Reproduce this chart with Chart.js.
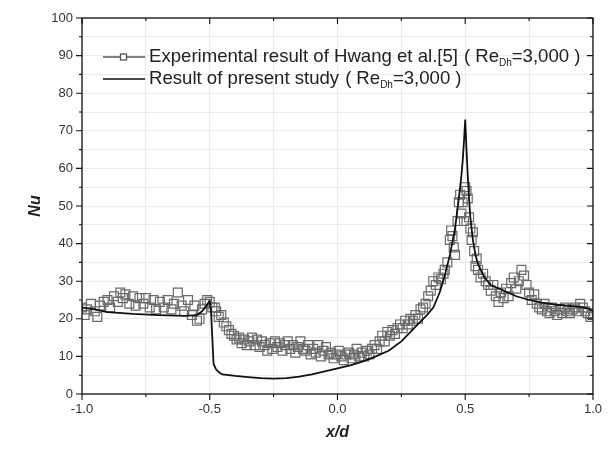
<!DOCTYPE html>
<html lang="en">
<head>
<meta charset="UTF-8">
<title>Nu distribution along x/d</title>
<script src="https://cdn.jsdelivr.net/npm/chart.js@4"></script>
<style>
  html, body { margin: 0; padding: 0; background: #fff; }
  #wrap { width: 610px; height: 451px; }
</style>
</head>
<body>
<div id="wrap"><canvas id="nuChart" width="610" height="451"></canvas></div>
<script>
// experimental result of Hwang et al. [5]
const expX = [
  -1.0, -0.99, -0.98, -0.965, -0.95, -0.94, -0.93, -0.915, -0.9, -0.89,
  -0.875, -0.86, -0.85, -0.84, -0.83, -0.815, -0.8, -0.79, -0.775, -0.76,
  -0.75, -0.735, -0.72, -0.71, -0.695, -0.68, -0.665, -0.65, -0.64, -0.625,
  -0.61, -0.6, -0.585, -0.57, -0.56, -0.55, -0.54, -0.53, -0.52, -0.51,
  -0.5, -0.49, -0.48, -0.475, -0.465, -0.455, -0.445, -0.435, -0.425, -0.415,
  -0.405, -0.395, -0.385, -0.375, -0.365, -0.355, -0.345, -0.335, -0.325, -0.315,
  -0.305, -0.295, -0.285, -0.275, -0.265, -0.255, -0.245, -0.235, -0.225, -0.215,
  -0.205, -0.195, -0.185, -0.175, -0.165, -0.155, -0.145, -0.135, -0.125, -0.115,
  -0.105, -0.095, -0.085, -0.075, -0.065, -0.055, -0.045, -0.035, -0.025, -0.015,
  -0.005, 0.005, 0.015, 0.025, 0.035, 0.045, 0.055, 0.065, 0.075, 0.085,
  0.095, 0.105, 0.115, 0.125, 0.135, 0.145, 0.155, 0.165, 0.175, 0.185,
  0.195, 0.205, 0.215, 0.225, 0.235, 0.245, 0.255, 0.265, 0.275, 0.285,
  0.295, 0.305, 0.315, 0.325, 0.335, 0.345, 0.355, 0.365, 0.375, 0.385,
  0.395, 0.405, 0.415, 0.42, 0.43, 0.44, 0.445, 0.45, 0.455, 0.46,
  0.47, 0.475, 0.48, 0.485, 0.49, 0.495, 0.5, 0.505, 0.51, 0.515,
  0.52, 0.525, 0.53, 0.535, 0.54, 0.545, 0.55, 0.56, 0.57, 0.58,
  0.59, 0.6, 0.61, 0.62, 0.63, 0.64, 0.65, 0.66, 0.67, 0.68,
  0.69, 0.7, 0.71, 0.72, 0.73, 0.74, 0.75, 0.76, 0.77, 0.78,
  0.79, 0.8, 0.81, 0.82, 0.83, 0.84, 0.85, 0.86, 0.87, 0.88,
  0.89, 0.9, 0.91, 0.92, 0.93, 0.94, 0.95, 0.96, 0.97, 0.98,
  0.99, 1.0
];
const expNu = [
  23, 21, 22.5, 24, 22, 20.5, 23.5, 24.5, 25, 23,
  26, 24.5, 27, 25.5, 26.5, 24, 26, 23.5, 25.5, 24,
  25.5, 23, 25, 22.5, 24.5, 23, 25, 22.5, 24, 27,
  23.5, 22, 25, 21, 23.5, 19.5, 20, 22.5, 24, 25,
  24.5, 23, 23, 22, 20.5, 21, 19, 18, 17, 16,
  15.5, 14.5, 15, 13.5, 14.5, 13, 14, 15, 13, 14.5,
  12.5, 14, 13, 11.5, 13.5, 12, 14, 12.5, 13.5, 11.5,
  13, 14, 12, 13, 11, 12.5, 14, 12, 11.5, 13,
  10.5, 12, 11, 13, 10, 11.5, 12.5, 10.5, 11, 9.5,
  10.5, 11.5, 10, 9, 10.5, 11, 9.5, 10.5, 12, 10,
  11, 10, 11.5, 10.5, 12, 13, 12, 14, 15.5, 14,
  16.5, 15.5, 17, 16, 17.5, 18.5, 17.5, 19.5, 18.5, 20,
  19.5, 21, 20, 22.5, 23, 24, 26, 27.5, 30, 29,
  31, 30.5, 32, 33, 35, 41, 43.5, 42, 39, 37,
  46, 51, 53, 48, 51, 46, 55, 54, 52, 47,
  44, 41, 43, 38, 34, 36, 33, 31, 32, 30,
  29, 27.5, 29, 26, 24.5, 27, 25.5, 28, 26, 29.5,
  31, 28, 30, 33, 31.5, 29, 27, 25, 26.5, 24,
  23, 22.5, 24, 22, 21.5, 23, 22, 21, 22.5, 21.5,
  23, 22, 21.5, 22.5, 23, 22, 24, 23, 22, 21.5,
  20.5, 21
];

// result of present study
const simX = [
  -1.0, -0.95, -0.9, -0.8, -0.7, -0.6, -0.55, -0.53, -0.515, -0.5,
  -0.495, -0.49, -0.485, -0.475, -0.46, -0.45, -0.4, -0.35, -0.3, -0.25,
  -0.2, -0.15, -0.1, -0.05, 0.0, 0.05, 0.1, 0.15, 0.2, 0.25,
  0.3, 0.35, 0.375, 0.4, 0.42, 0.44, 0.46, 0.475, 0.485, 0.49,
  0.495, 0.5, 0.505, 0.51, 0.515, 0.52, 0.53, 0.54, 0.55, 0.575,
  0.6, 0.65, 0.7, 0.75, 0.8, 0.85, 0.9, 0.95, 0.98, 1.0
];
const simNu = [
  23, 22.5, 21.8, 21.3, 21, 20.8, 21, 22, 23.3, 24.8,
  22, 15, 8, 6.5, 5.6, 5.2, 4.8, 4.5, 4.2, 4.1,
  4.2, 4.6, 5.2, 6, 6.8, 7.6, 8.7, 10, 11.5, 14,
  17.5, 21, 23, 27, 31.5, 37, 44, 52, 58, 62,
  67, 73, 65, 58, 52, 47, 41, 37, 34.5, 31,
  29, 27.5, 26, 25, 24.3, 23.8, 23.5, 23.2, 22.8, 22
];

const xTickLabels = ['-1.0', '-0.5', '0.0', '0.5', '1.0'];
const yTickLabels = ['0', '10', '20', '30', '40', '50', '60', '70', '80', '90', '100'];
const seriesNames = ['Experimental result of Hwang et al.[5]', 'Result of present study'];
const reynolds = '3,000';

const FONT = "'Liberation Sans', Arial, sans-serif";

// frame, in/out ticks and the legend with subscripts
const framePlugin = {
  id: 'frame',
  afterDraw(chart) {
    const { ctx, chartArea: a, scales: { x, y } } = chart;
    ctx.save();
    ctx.strokeStyle = '#111';
    ctx.lineWidth = 1.3;
    ctx.strokeRect(a.left, a.top, a.right - a.left, a.bottom - a.top);

    ctx.lineWidth = 1.1;
    ctx.beginPath();
    for (let i = 0; i <= 8; i++) {
      const px = x.getPixelForValue(-1 + i * 0.25);
      const len = i % 2 === 0 ? 6 : 3;
      ctx.moveTo(px, a.bottom); ctx.lineTo(px, a.bottom + len);
      ctx.moveTo(px, a.top); ctx.lineTo(px, a.top + len);
    }
    for (let i = 0; i <= 20; i++) {
      const py = y.getPixelForValue(i * 5);
      const len = i % 2 === 0 ? 6 : 3;
      ctx.moveTo(a.left, py); ctx.lineTo(a.left - len, py);
      ctx.moveTo(a.right, py); ctx.lineTo(a.right - len, py);
    }
    ctx.stroke();

    // legend
    const lx0 = 103, lx1 = 145, tx = 149;
    const rowsY = [57, 79];
    ctx.textBaseline = 'middle';
    rowsY.forEach((ry, i) => {
      ctx.strokeStyle = i === 0 ? '#555' : '#111';
      ctx.lineWidth = i === 0 ? 1.3 : 1.6;
      ctx.beginPath(); ctx.moveTo(lx0, ry); ctx.lineTo(lx1, ry); ctx.stroke();
      if (i === 0) {
        ctx.fillStyle = '#fff';
        ctx.fillRect(120.5, ry - 3, 6, 6);
        ctx.strokeRect(120.5, ry - 3, 6, 6);
      }
      ctx.fillStyle = '#222';
      ctx.font = '18.6px ' + FONT;
      let cx = tx;
      const put = (s, gap) => { ctx.fillText(s, cx, ry); cx += ctx.measureText(s).width + (gap || 0); };
      put(seriesNames[i], 6);
      put('(', 5);
      put('Re');
      ctx.font = '10px ' + FONT;
      ctx.fillText('Dh', cx, ry + 6);
      cx += ctx.measureText('Dh').width;
      ctx.font = '18.6px ' + FONT;
      put('=' + reynolds, 5);
      put(')');
    });
    ctx.restore();
  }
};

new Chart(document.getElementById('nuChart'), {
  data: {
    datasets: [
      {
        type: 'line',
        label: seriesNames[1],
        data: simX.map((v, i) => ({ x: v, y: simNu[i] })),
        borderColor: '#111',
        borderWidth: 1.8,
        pointRadius: 0,
        tension: 0,
        fill: false,
        order: 0
      },
      {
        type: 'scatter',
        label: seriesNames[0],
        data: expX.map((v, i) => ({ x: v, y: expNu[i] })),
        pointStyle: 'rect',
        pointRadius: 6.3,
        borderColor: '#6a6a6a',
        borderWidth: 1.2,
        backgroundColor: 'rgba(255,255,255,0)',
        order: 1
      }
    ]
  },
  options: {
    responsive: false,
    animation: false,
    devicePixelRatio: 1,
    layout: { padding: { top: 18, right: 12, left: 0, bottom: 0 } },
    plugins: { legend: { display: false }, tooltip: { enabled: false } },
    scales: {
      x: {
        type: 'linear',
        min: -1, max: 1,
        afterFit: s => { s.height = 57; },
        ticks: {
          stepSize: 0.25,
          padding: 8,
          color: '#333',
          font: { family: FONT, size: 13 },
          callback: v => {
            const k = Math.round((v + 1) * 2);
            return Math.abs((v + 1) * 2 - k) < 1e-6 ? xTickLabels[k] : '';
          }
        },
        grid: { color: '#ececec', lineWidth: 1, drawTicks: false },
        border: { display: false },
        title: {
          display: true, text: 'x/d', color: '#222',
          font: { family: FONT, size: 16, weight: 'bold', style: 'italic' },
          padding: { top: 0, bottom: 9 }
        }
      },
      y: {
        type: 'linear',
        min: 0, max: 100,
        afterFit: s => { s.width = 82; },
        ticks: {
          stepSize: 5,
          padding: 9,
          color: '#333',
          font: { family: FONT, size: 13 },
          callback: v => (v % 10 === 0 ? yTickLabels[v / 10] : '')
        },
        grid: { color: '#ececec', lineWidth: 1, drawTicks: false },
        border: { display: false },
        title: {
          display: true, text: 'Nu', color: '#222',
          font: { family: FONT, size: 16, weight: 'bold', style: 'italic' },
          padding: { top: 26, bottom: 0 }
        }
      }
    }
  },
  plugins: [framePlugin]
});
</script>
</body>
</html>
